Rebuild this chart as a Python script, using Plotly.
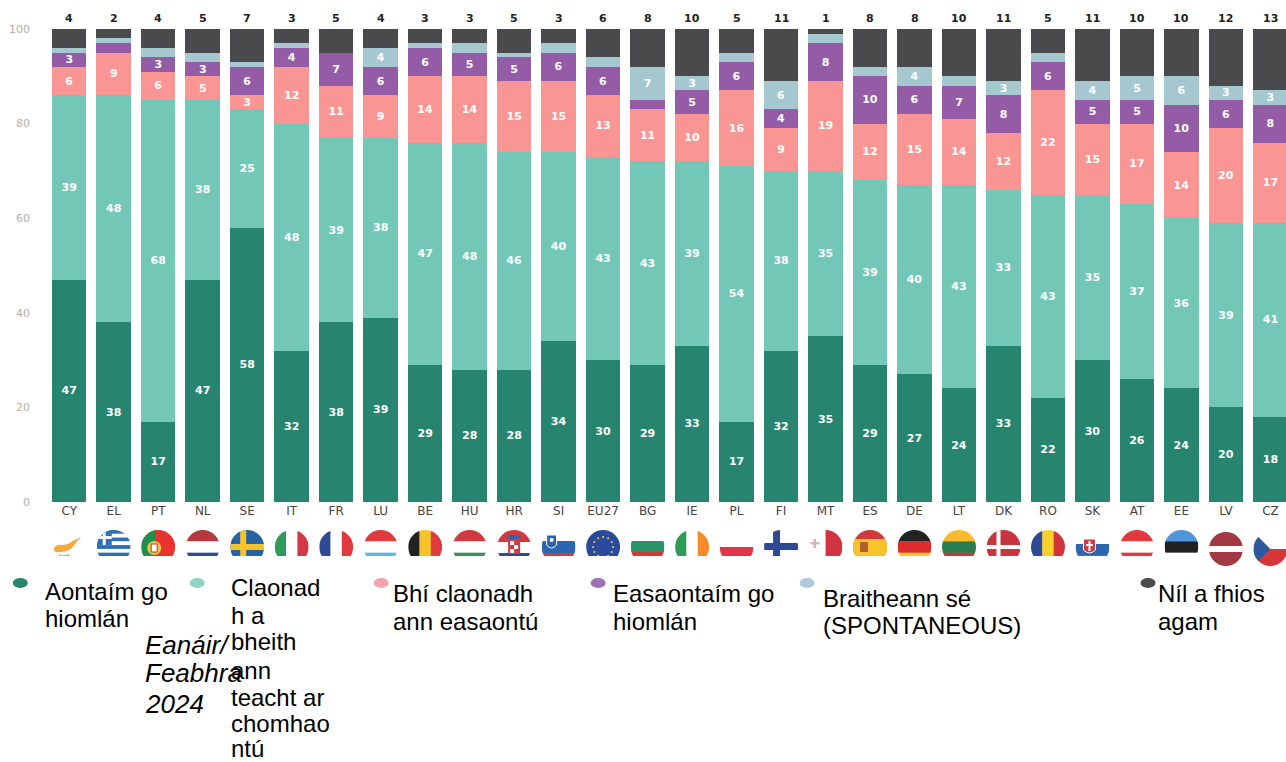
import base64
import plotly.graph_objects as go

countries = ["CY","EL","PT","NL","SE","IT","FR","LU","BE","HU","HR","SI","EU27","BG","IE","PL","FI","MT","ES","DE","LT","DK","RO","SK","AT","EE","LV","CZ"]
agree_fully = [47,38,17,47,58,32,38,39,29,28,28,34,30,29,33,17,32,35,29,27,24,33,22,30,26,24,20,18]
agree_tend = [39,48,68,38,25,48,39,38,47,48,46,40,43,43,39,54,38,35,39,40,43,33,43,35,37,36,39,41]
disagree_tend = [6,9,6,5,3,12,11,9,14,14,15,15,13,11,10,16,9,19,12,15,14,12,22,15,17,14,20,17]
disagree_fully = [3,2,3,3,6,4,7,6,6,5,5,6,6,2,5,6,4,8,10,6,7,8,6,5,5,10,6,8]
depends = [1,1,2,2,1,1,0,4,1,2,1,2,2,7,3,2,6,2,2,4,2,3,2,4,5,6,3,3]
dont_know = [4,2,4,5,7,3,5,4,3,3,5,3,6,8,10,5,11,1,8,8,10,11,5,11,10,10,12,13]

series = [agree_fully, agree_tend, disagree_tend, disagree_fully, depends, dont_know]
colors = ["#27856F", "#72C7B7", "#F99693", "#945CA6", "#A5C7D0", "#4A494C"]
names = ["Aontaím go hiomlán", "Claonadh a bheith ann teacht ar chomhaontú", "Bhí claonadh ann easaontú",
         "Easaontaím go hiomlán", "Braitheann sé (SPONTANEOUS)", "Níl a fhios agam"]
legend_lines = [
    (43, [591, 618], ["Aontaím go", "hiomlán"]),
    (229, [587, 615, 641, 670, 697, 723, 748], ["Claonad", "h a", "bheith", "ann", "teacht ar", "chomhao", "ntú"]),
    (391, [593, 621], ["Bhí claonadh", "ann easaontú"]),
    (611, [593, 621], ["Easaontaím go", "hiomlán"]),
    (821, [598, 625], ["Braitheann sé", "(SPONTANEOUS)"]),
    (1156, [593, 621], ["Níl a fhios", "agam"]),
]
legend_dots = [(20, 583), (197, 583), (381, 583), (598, 583), (807, 583), (1148, 583)]
dot_colors = ["#27856F", "#8ED3C5", "#F2A5AE", "#A070B5", "#AECAD8", "#4A494C"]
date_lines = [(645, "Eanáir/"), (673, "Feabhra"), (704, "2024")]

W, H = 1286, 762
L, T, B = 46.75, 29, 502
PITCH = 44.5


def h(*cols):
    return [("h", c) for c in cols]


def v(*cols):
    return [("v", c) for c in cols]


R, RD, BL, NV, Y, GR, G = "#E03A3E", "#B8383F", "#2C66AE", "#2F4A94", "#F5C32C", "#2F9B58", "#1E8F4E"
flags = {
    "CY": "cy", "EL": "el", "PT": "pt", "NL": h(RD, "#FFFFFF", NV), "SE": "se",
    "IT": v("#2F9B58", "#FFFFFF", "#D13A44"), "FR": v(NV, "#FFFFFF", R), "LU": h(R, "#FFFFFF", "#5BB8E0"),
    "BE": v("#222222", Y, R), "HU": h("#CF3A40", "#FFFFFF", "#3C8F5A"), "HR": "hr", "SI": "si", "EU27": "eu",
    "BG": "bg", "IE": v("#2F9B58", "#FFFFFF", "#F58A2C"), "PL": h("#FFFFFF", "#E0364A"),
    "FI": "fi", "MT": "mt", "ES": "es", "DE": h("#222222", "#DD2C2C", "#F7C52B"),
    "LT": h("#FBBB2E", "#2A7D4F", "#C0393B"), "DK": "dk", "RO": v("#2F4A94", "#FBD02A", "#D1353C"),
    "SK": "sk", "AT": h(R, "#FFFFFF", R), "EE": h("#4F96D8", "#222222", "#FFFFFF"),
    "LV": "lv", "CZ": "cz",
}


def flag_svg(code):
    spec = flags[code]
    body = ""
    if isinstance(spec, list):
        n = len(spec)
        for i, (o, c) in enumerate(spec):
            if o == "h":
                body += f'<rect x="0" y="{i*34/n}" width="34" height="{34/n+0.3}" fill="{c}"/>'
            else:
                body += f'<rect x="{i*34/n}" y="0" width="{34/n+0.3}" height="34" fill="{c}"/>'
    elif spec == "el":
        for i in range(9):
            c = "#2C6FB5" if i % 2 == 0 else "#FFFFFF"
            body += f'<rect x="0" y="{i*34/9}" width="34" height="3.9" fill="{c}"/>'
        body += '<rect x="0" y="0" width="15" height="15" fill="#2C6FB5"/><rect x="6" y="0" width="3" height="15" fill="#FFF"/><rect x="0" y="6" width="15" height="3" fill="#FFF"/>'
    elif spec == "pt":
        body = '<rect width="34" height="34" fill="#E8332F"/><rect width="14" height="34" fill="#1E8F4E"/><circle cx="13" cy="18" r="7" fill="#E9C94A"/><rect x="10" y="14" width="6" height="8" fill="#FFF" stroke="#C0392B"/>'
    elif spec == "se":
        body = '<rect width="34" height="34" fill="#2464A4"/><rect x="10" width="6" height="34" fill="#F5C32C"/><rect y="14" width="34" height="6" fill="#F5C32C"/>'
    elif spec == "fi":
        body = '<rect y="6" width="34" height="22" fill="#FFFFFF"/><rect x="9" width="7" height="34" fill="#2F4A94"/><rect y="13" width="34" height="7" fill="#2F4A94"/>'
    elif spec == "dk":
        body = '<rect width="34" height="34" fill="#C9343F"/><rect x="10" width="4" height="34" fill="#FFF"/><rect y="15" width="34" height="4" fill="#FFF"/>'
    elif spec == "cy":
        body = '<rect width="34" height="34" fill="#FFF"/><path d="M1 20 Q3 14 10 15 Q18 14 20 11 L29 7 Q24 12 22 15 Q18 22 8 22 Q3 23 1 20Z" fill="#F5A93C"/><path d="M7 25 Q11 28 17 25" stroke="#9DB89A" stroke-width="2" fill="none"/>'
    elif spec == "hr":
        body = '<rect width="34" height="12" fill="#D13A40"/><rect y="12" width="34" height="11" fill="#FFF"/><rect y="23" width="34" height="11" fill="#2F4A94"/><rect x="11" y="6" width="12" height="18" fill="#D13A40"/><rect x="11" y="5" width="12" height="4" fill="#3E5FA8"/><rect x="13" y="11" width="4" height="4" fill="#FFF"/><rect x="17" y="15" width="4" height="4" fill="#FFF"/><rect x="13" y="19" width="4" height="4" fill="#FFF"/>'
    elif spec == "si":
        body = '<rect width="34" height="11" fill="#FFF"/><rect y="11" width="34" height="12" fill="#2C66AE"/><rect y="23" width="34" height="11" fill="#D13A40"/><path d="M5 5 H15 V15 Q10 21 5 15Z" fill="#2C66AE" stroke="#FFF"/><circle cx="10" cy="10" r="2" fill="#FFF"/>'
    elif spec == "eu":
        body = '<rect width="34" height="34" fill="#2A4A9B"/>' + "".join(
            f'<circle cx="{17+10*c:.1f}" cy="{17+10*s:.1f}" r="1" fill="#F5D33A"/>'
            for c, s in [(0, -1), (.5, -.87), (.87, -.5), (1, 0), (.87, .5), (.5, .87), (0, 1), (-.5, .87), (-.87, .5), (-1, 0), (-.87, -.5), (-.5, -.87)])
    elif spec == "bg":
        body = '<rect width="34" height="11" fill="#FFF"/><rect y="11" width="34" height="11" fill="#2A9468"/><rect y="22" width="34" height="12" fill="#D13A3A"/>'
    elif spec == "mt":
        body = '<rect width="34" height="34" fill="#FFF"/><rect x="17" width="17" height="34" fill="#D13340"/><rect x="5" y="9" width="2.5" height="9" fill="#D9B3BC"/><rect x="2" y="12" width="9" height="2.5" fill="#D9B3BC"/>'
    elif spec == "es":
        body = '<rect width="34" height="34" fill="#D13A3A"/><rect y="9" width="34" height="17" fill="#F7C52B"/><rect x="7" y="12" width="8" height="10" fill="#B5602F"/>'
    elif spec == "sk":
        body = '<rect y="9" width="34" height="8" fill="#FFF"/><rect y="14" width="34" height="11" fill="#2C66AE"/><rect y="25" width="34" height="9" fill="#D13A40"/><path d="M8 9 H20 V20 Q14 26 8 20Z" fill="#D13A40" stroke="#FFF"/><rect x="13" y="11" width="2" height="10" fill="#FFF"/><rect x="10.5" y="14" width="7" height="2" fill="#FFF"/>'
    elif spec == "lv":
        body = '<rect width="34" height="34" fill="#A23A45"/><rect y="14" width="34" height="6" fill="#FFF"/>'
    elif spec == "cz":
        body = '<rect width="34" height="17" fill="#FFF"/><rect y="17" width="34" height="17" fill="#D9363C"/><path d="M0 0 L17 17 L0 34Z" fill="#2C5A9E"/>'
    # the picture of the flags stops at y=556 except for the last two
    keep = 34 if code in ("LV", "CZ") else 26
    svg = (f'<svg xmlns="http://www.w3.org/2000/svg" width="34" height="34" viewBox="0 0 34 34">'
           f'<defs><clipPath id="c"><circle cx="17" cy="17" r="17"/></clipPath><clipPath id="k"><rect width="34" height="{keep}"/></clipPath></defs>'
           f'<g clip-path="url(#k)"><g clip-path="url(#c)">{body}</g></g></svg>')
    return "data:image/svg+xml;base64," + base64.b64encode(svg.encode()).decode()


fig = go.Figure()
for name, vals, col in zip(names, series, colors):
    is_top = col == colors[-1]
    fig.add_bar(
        x=countries, y=vals, name=name, marker=dict(color=col, line_width=0),
        text=["" if is_top or y < 3 else str(y) for y in vals],
        textposition="inside", insidetextanchor="middle", textangle=0,
        textfont=dict(family="DejaVu Sans", size=11, color="white", weight="bold"),
        hoverinfo="x+y+name",
    )

images = []
for c in countries:
    dy = 2 if c in ("LV", "CZ") else 0
    images.append(dict(source=flag_svg(c), xref="x", yref="paper", x=c, y=1 - (530 + dy - T) / (B - T),
                       sizex=34 / PITCH, sizey=34 / (B - T), xanchor="center", yanchor="top",
                       sizing="stretch", layer="above"))

annotations = []
for c, val in zip(countries, dont_know):
    annotations.append(dict(x=c, y=100, yshift=2, yanchor="bottom", xanchor="center", text=str(val), showarrow=False,
                            font=dict(family="DejaVu Sans", size=11, color="#222222", weight="bold")))
for x0, ys, lines in legend_lines:
    for y0, line in zip(ys, lines):
        annotations.append(dict(xref="paper", yref="paper", x=(x0 - L) / (W - L), y=1 - (y0 - T) / (B - T),
                                xanchor="left", yanchor="middle", text=line, showarrow=False, align="left",
                                font=dict(family="Liberation Sans", size=24, color="#000000")))
for y0, line in date_lines:
    annotations.append(dict(xref="paper", yref="paper", x=(143 - L) / (W - L), y=1 - (y0 - T) / (B - T),
                            xanchor="left", yanchor="middle", text=f"<i>{line}</i>", showarrow=False,
                            font=dict(family="Liberation Sans", size=26, color="#000000")))

shapes = []
for (dx, dy), c in zip(legend_dots, dot_colors):
    x, y = (dx - L) / (W - L), 1 - (dy - T) / (B - T)
    shapes.append(dict(type="circle", xref="paper", yref="paper", x0=x - 7.5 / (W - L), x1=x + 7.5 / (W - L),
                       y0=y - 5 / (B - T), y1=y + 5 / (B - T), fillcolor=c, line_width=0))

fig.update_layout(
    width=W, height=H, barmode="stack", bargap=0.225, showlegend=False,
    plot_bgcolor="white", paper_bgcolor="white",
    margin=dict(l=L, r=0, t=T, b=H - B, pad=0),
    images=images, annotations=annotations, shapes=shapes,
    uniformtext=dict(minsize=11, mode="show"),
    xaxis=dict(range=[-0.5, 27.35], type="category", categoryorder="array", categoryarray=countries,
               showgrid=False, zeroline=False, showline=False, ticks="", tickangle=0,
               tickfont=dict(family="DejaVu Sans", size=12, color="#444444")),
    yaxis=dict(range=[0, 100], tickvals=[0, 20, 40, 60, 80, 100], showgrid=False, zeroline=False,
               showline=False, ticks="", ticklabelstandoff=16,
               tickfont=dict(family="DejaVu Sans", size=11, color="#B3AEA8")),
)
fig.write_html("out.html", config={"displayModeBar": False},
               post_script="document.body.style.margin='0';document.body.style.overflow='hidden';")
